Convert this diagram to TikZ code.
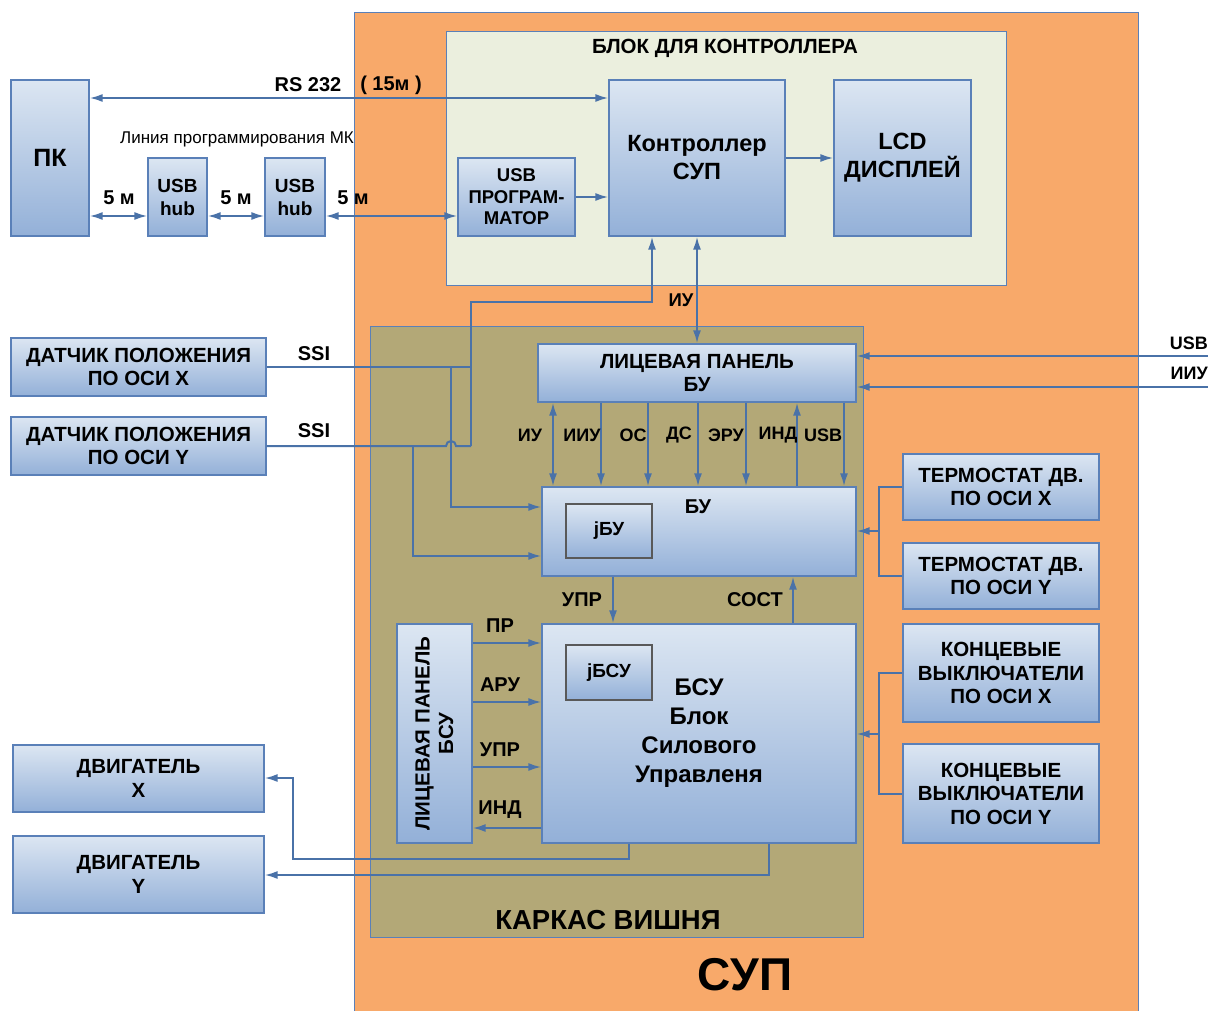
\documentclass[tikz,border=0pt]{standalone}
\usepackage{fontspec}
\setmainfont{Liberation Sans}
\usetikzlibrary{arrows.meta}
\definecolor{supfill}{HTML}{F8A96A}
\definecolor{ctrlfill}{HTML}{EBEFDE}
\definecolor{karkasfill}{HTML}{B3A877}
\definecolor{boxtop}{HTML}{DCE6F2}
\definecolor{boxbot}{HTML}{93B0D8}
\definecolor{boxedge}{HTML}{5A80B8}
\definecolor{wire}{HTML}{4A72A8}
\begin{document}
\begin{tikzpicture}[x=1pt,y=-1pt,
        blk/.style={draw=boxedge, line width=1.2pt, top color=boxtop, bottom color=boxbot,
            align=center, inner sep=0pt, font=\bfseries\fontsize{20.5}{23.5}\selectfont},
        jblk/.style={blk, draw=black!65, font=\bfseries\fontsize{19}{22}\selectfont},
        frame/.style={draw=boxedge, line width=0.8pt},
        wireline/.style={draw=wire, line width=2pt},
        arr/.style={wireline, -{Latex[length=13pt,width=8pt]}},
        biarr/.style={wireline, {Latex[length=13pt,width=8pt]}-{Latex[length=13pt,width=8pt]}},
        lbl/.style={font=\bfseries\fontsize{20}{22}\selectfont, inner sep=0pt},
        sublbl/.style={lbl, font=\bfseries\fontsize{18}{20}\selectfont},
    ]
    \useasboundingbox (0,0) rectangle (1208,1011);
    % frames
    \fill[supfill] (354,12) rectangle (1138,1011);
    \draw[frame] (354,1011) -- (354,12) -- (1138,12) -- (1138,1011);
    \draw[frame, fill=ctrlfill] (446,31) rectangle (1006,285);
    \draw[frame, fill=karkasfill] (370,326) rectangle (863,937);
    \node[lbl, font=\bfseries\fontsize{20.5}{22}\selectfont] (ctrltitle) at (725,48) {БЛОК ДЛЯ КОНТРОЛЛЕРА};
    \node[lbl, font=\bfseries\fontsize{27.5}{30}\selectfont] (karkastitle) at (608,920) {КАРКАС ВИШНЯ};
    \node[lbl, font=\bfseries\fontsize{46}{48}\selectfont] (suptitle) at (745,975) {СУП};

    % blocks
    \node[blk, minimum width=78, minimum height=156, font=\bfseries\fontsize{25}{28}\selectfont] (pk) at (50,158) {ПК};
    \node[blk, minimum width=59, minimum height=78, font=\bfseries\fontsize{19}{23}\selectfont] (hubA) at (177.5,197) {USB\\hub};
    \node[blk, minimum width=60, minimum height=78, font=\bfseries\fontsize{19}{23}\selectfont] (hubB) at (295,197) {USB\\hub};
    \node[blk, minimum width=117, minimum height=78, font=\bfseries\fontsize{18.5}{21.5}\selectfont] (prog) at (516.5,197) {USB\\ПРОГРАМ-\\МАТОР};
    \node[blk, minimum width=176, minimum height=156, font=\bfseries\fontsize{23.5}{28}\selectfont] (ctrl) at (697,158) {Контроллер\\СУП};
    \node[blk, minimum width=137, minimum height=156, font=\bfseries\fontsize{23.5}{28}\selectfont] (lcd) at (902.5,158) {LCD\\ДИСПЛЕЙ};
    \node[blk, minimum width=255, minimum height=58] (dx) at (138.5,367) {ДАТЧИК ПОЛОЖЕНИЯ\\ПО ОСИ X};
    \node[blk, minimum width=255, minimum height=58] (dy) at (138.5,446) {ДАТЧИК ПОЛОЖЕНИЯ\\ПО ОСИ Y};
    \node[blk, minimum width=318, minimum height=58] (lpbu) at (697,373) {ЛИЦЕВАЯ ПАНЕЛЬ\\БУ};
    \node[blk, minimum width=314, minimum height=89] (bu) at (699,531.5) {};
    \node[lbl] (butitle) at (698,507) {БУ};
    \node[jblk, minimum width=86, minimum height=54] (jbu) at (609,531) {jБУ};
    \node[blk, minimum width=314, minimum height=219, font=\bfseries\fontsize{24}{29}\selectfont] (bsu) at (699,733.5) {БСУ\\Блок\\Силового\\Управленя};
    \node[jblk, minimum width=86, minimum height=55] (jbsu) at (609,672.5) {jБСУ};
    \node[blk, rotate=90, minimum width=219, minimum height=75] (lpbsu) at (434.5,733.5) {ЛИЦЕВАЯ ПАНЕЛЬ\\БСУ};
    \node[blk, minimum width=196, minimum height=66] (tx) at (1001,487) {ТЕРМОСТАТ ДВ.\\ПО ОСИ X};
    \node[blk, minimum width=196, minimum height=66] (ty) at (1001,576) {ТЕРМОСТАТ ДВ.\\ПО ОСИ Y};
    \node[blk, minimum width=196, minimum height=98] (kx) at (1001,673) {КОНЦЕВЫЕ\\ВЫКЛЮЧАТЕЛИ\\ПО ОСИ X};
    \node[blk, minimum width=196, minimum height=99] (ky) at (1001,793.5) {КОНЦЕВЫЕ\\ВЫКЛЮЧАТЕЛИ\\ПО ОСИ Y};
    \node[blk, minimum width=251, minimum height=67] (mx) at (138.5,778.5) {ДВИГАТЕЛЬ\\X};
    \node[blk, minimum width=251, minimum height=77] (my) at (138.5,874.5) {ДВИГАТЕЛЬ\\Y};

    % PC links
    \draw[biarr] (pk.east |- 0,98) -- (ctrl.west |- 0,98);
    \node[lbl] (rs) at (308,85) {RS 232};
    \node[lbl] (rslen) at (391,85) {( 15м )};
    \node[font=\fontsize{17}{19}\selectfont, inner sep=0pt] (progline) at (237,139) {Линия программирования МК};
    \draw[biarr] (pk.east |- 0,216) -- (hubA.west |- 0,216);
    \draw[biarr] (hubA.east |- 0,216) -- (hubB.west |- 0,216);
    \draw[biarr] (hubB.east |- 0,216) -- (prog.west |- 0,216);
    \node[lbl] at (119,198) {5 м};
    \node[lbl] at (236,198) {5 м};
    \node[lbl] at (353,198) {5 м};
    \draw[arr] (prog.east) -- (ctrl.west |- prog.east);
    \draw[arr] (ctrl.east) -- (lcd.west);

    % controller <-> BU
    \draw[biarr] (ctrl.south) -- (lpbu.north);
    \node[sublbl, font=\bfseries\fontsize{18.5}{20}\selectfont] at (681,300) {ИУ};
    \draw[arr] (471,446) -- (471,302) -- (652,302) -- (ctrl.south -| 652,0);

    % sensors
    \draw[wireline] (dx.east) -- (471,367);
    \draw[wireline] (dy.east) -- (446,446) arc[start angle=180, end angle=360, radius=5] -- (471,446);
    \node[lbl] at (314,354) {SSI};
    \node[lbl] at (314,431) {SSI};
    \draw[arr] (451,367) -- (451,507) -- (bu.west |- 0,507);
    \draw[arr] (413,446) -- (413,556) -- (bu.west |- 0,556);

    % panel BU -> BU
    \foreach \xx/\txt/\lx in {601/ИИУ/582, 648/ОС/633, 698/ДС/679, 746/ЭРУ/726, 844/USB/823}{
        \draw[arr] (lpbu.south -| \xx,0) -- (bu.north -| \xx,0);
        \node[sublbl] at (\lx,435) {\txt};
    }
    \draw[biarr] (lpbu.south -| 553,0) -- (bu.north -| 553,0);
    \node[sublbl] at (530,435) {ИУ};
    \draw[arr] (bu.north -| 797,0) -- (lpbu.south -| 797,0);
    \node[sublbl] at (778,435) {ИНД};

    % external
    \draw[arr] (1208,356) -- (lpbu.east |- 0,356);
    \draw[arr] (1208,387) -- (lpbu.east |- 0,387);
    \node[sublbl, anchor=east] at (1208,343) {USB};
    \node[sublbl, anchor=east] at (1208,373) {ИИУ};

    % thermostats, limit switches
    \draw[wireline] (tx.west) -- (879,487) -- (879,576) -- (ty.west);
    \draw[arr] (879,531) -- (bu.east |- 0,531);
    \draw[wireline] (kx.west) -- (879,673) -- (879,794) -- (ky.west |- 0,794);
    \draw[arr] (879,734) -- (bsu.east |- 0,734);

    % BU <-> BSU
    \draw[arr] (bu.south -| 613,0) -- (bsu.north -| 613,0);
    \node[lbl] at (582,600) {УПР};
    \draw[arr] (bsu.north -| 793,0) -- (bu.south -| 793,0);
    \node[lbl] at (755,600) {СОСТ};

    % panel BSU <-> BSU
    \foreach \yy/\txt in {643/ПР, 702/АРУ, 767/УПР}{
        \draw[arr] (lpbsu.south |- 0,\yy) -- (bsu.west |- 0,\yy);
        \node[lbl] at (500,\yy-17) {\txt};
    }
    \draw[arr] (bsu.west |- 0,828) -- (lpbsu.south |- 0,828);
    \node[lbl] at (500,810) {ИНД};

    % motors
    \draw[arr] (bsu.south -| 629,0) -- (629,859) -- (293,859) -- (293,778) -- (mx.east |- 0,778);
    \draw[arr] (bsu.south -| 769,0) -- (769,875) -- (my.east |- 0,875);
\end{tikzpicture}
\end{document}
